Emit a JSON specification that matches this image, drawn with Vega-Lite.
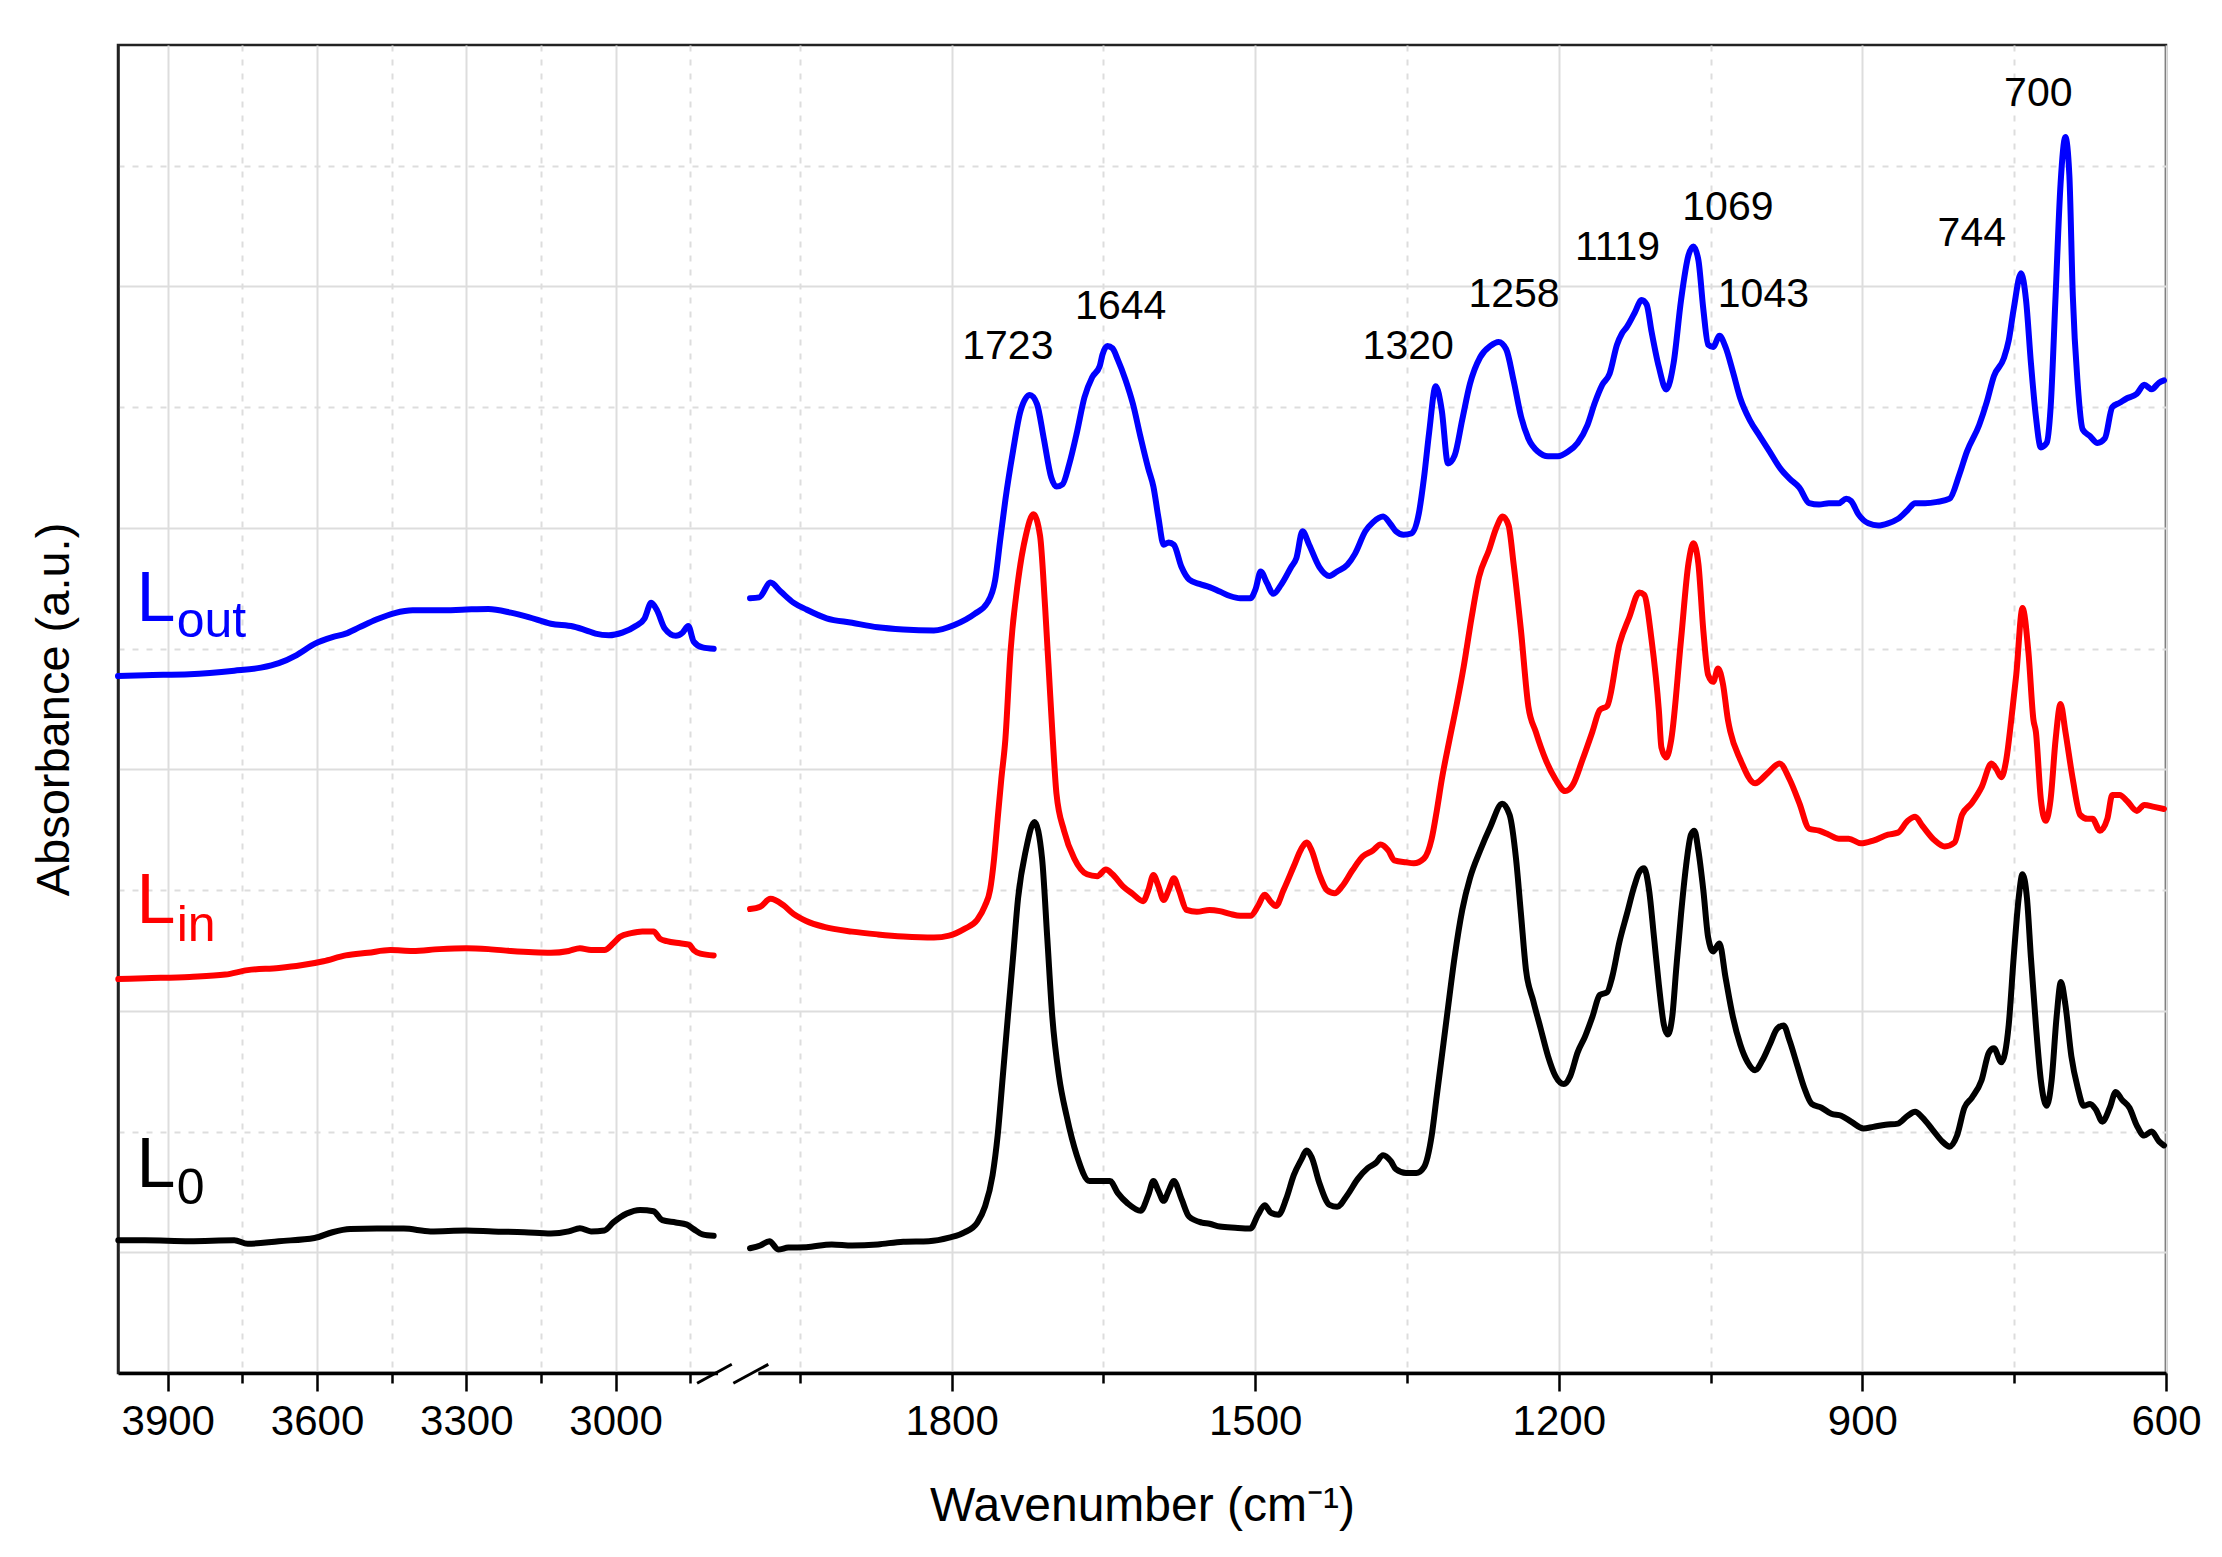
{
"$schema": "https://vega.github.io/schema/vega-lite/v6.json",
"width": 2048, "height": 1328,
"autosize": {"type": "none"},
"padding": {"left": 118, "top": 45, "right": 56, "bottom": 184},
"background": "white",
"config": {"font": "Liberation Sans", "view": {"stroke": "#222222", "strokeWidth": 2.5}},
"datasets": {
"spectra": [
{"s":"Lout","g":"a","w":4000,"v":5.773},{"s":"Lout","g":"a","w":3945.7,"v":5.780},{"s":"Lout","g":"a","w":3856,"v":5.788},{"s":"Lout","g":"a","w":3766.4,"v":5.817},{"s":"Lout","g":"a","w":3712.6,"v":5.843},{"s":"Lout","g":"a","w":3676.7,"v":5.880},{"s":"Lout","g":"a","w":3640.9,"v":5.947},{"s":"Lout","g":"a","w":3605,"v":6.039},{"s":"Lout","g":"a","w":3569,"v":6.095},{"s":"Lout","g":"a","w":3542.3,"v":6.124},{"s":"Lout","g":"a","w":3515.4,"v":6.176},{"s":"Lout","g":"a","w":3479.5,"v":6.243},{"s":"Lout","g":"a","w":3443.7,"v":6.294},{"s":"Lout","g":"a","w":3407.8,"v":6.317},{"s":"Lout","g":"a","w":3354,"v":6.317},{"s":"Lout","g":"a","w":3300.3,"v":6.324},{"s":"Lout","g":"a","w":3255.4,"v":6.328},{"s":"Lout","g":"a","w":3210.6,"v":6.298},{"s":"Lout","g":"a","w":3174.8,"v":6.261},{"s":"Lout","g":"a","w":3130,"v":6.206},{"s":"Lout","g":"a","w":3085.1,"v":6.183},{"s":"Lout","g":"a","w":3058.2,"v":6.150},{"s":"Lout","g":"a","w":3040.3,"v":6.124},{"s":"Lout","g":"a","w":3013.4,"v":6.110},{"s":"Lout","g":"a","w":2986.5,"v":6.132},{"s":"Lout","g":"a","w":2959.6,"v":6.187},{"s":"Lout","g":"a","w":2941.7,"v":6.250},{"s":"Lout","g":"a","w":2928.3,"v":6.380},{"s":"Lout","g":"a","w":2916.6,"v":6.317},{"s":"Lout","g":"a","w":2901.6,"v":6.169},{"s":"Lout","g":"a","w":2878.9,"v":6.106},{"s":"Lout","g":"a","w":2865.5,"v":6.132},{"s":"Lout","g":"a","w":2853.9,"v":6.187},{"s":"Lout","g":"a","w":2843,"v":6.058},{"s":"Lout","g":"a","w":2825.2,"v":6.010},{"s":"Lout","g":"a","w":2802.8,"v":5.999},
{"s":"Lout","g":"b","w":1999.2,"v":6.418},{"s":"Lout","g":"b","w":1990.1,"v":6.425},{"s":"Lout","g":"b","w":1979,"v":6.547},{"s":"Lout","g":"b","w":1968.9,"v":6.473},{"s":"Lout","g":"b","w":1956.3,"v":6.381},{"s":"Lout","g":"b","w":1943.7,"v":6.325},{"s":"Lout","g":"b","w":1923.5,"v":6.251},{"s":"Lout","g":"b","w":1898.3,"v":6.214},{"s":"Lout","g":"b","w":1873,"v":6.177},{"s":"Lout","g":"b","w":1847.8,"v":6.159},{"s":"Lout","g":"b","w":1817.5,"v":6.151},{"s":"Lout","g":"b","w":1797.4,"v":6.196},{"s":"Lout","g":"b","w":1777.2,"v":6.288},{"s":"Lout","g":"b","w":1764.6,"v":6.381},{"s":"Lout","g":"b","w":1757,"v":6.566},{"s":"Lout","g":"b","w":1752,"v":6.898},{"s":"Lout","g":"b","w":1746.9,"v":7.231},{"s":"Lout","g":"b","w":1739.3,"v":7.638},{"s":"Lout","g":"b","w":1731.8,"v":7.971},{"s":"Lout","g":"b","w":1722.7,"v":8.100},{"s":"Lout","g":"b","w":1715.6,"v":8.026},{"s":"Lout","g":"b","w":1709.1,"v":7.749},{"s":"Lout","g":"b","w":1701.5,"v":7.416},{"s":"Lout","g":"b","w":1696.4,"v":7.342},{"s":"Lout","g":"b","w":1690.4,"v":7.361},{"s":"Lout","g":"b","w":1683.8,"v":7.527},{"s":"Lout","g":"b","w":1676.3,"v":7.786},{"s":"Lout","g":"b","w":1668.7,"v":8.082},{"s":"Lout","g":"b","w":1661.1,"v":8.248},{"s":"Lout","g":"b","w":1653.6,"v":8.341},{"s":"Lout","g":"b","w":1651,"v":8.433},{"s":"Lout","g":"b","w":1646,"v":8.507},{"s":"Lout","g":"b","w":1641,"v":8.488},{"s":"Lout","g":"b","w":1635.9,"v":8.396},{"s":"Lout","g":"b","w":1628.3,"v":8.230},{"s":"Lout","g":"b","w":1620.8,"v":8.026},{"s":"Lout","g":"b","w":1613.2,"v":7.749},{"s":"Lout","g":"b","w":1605.6,"v":7.490},{"s":"Lout","g":"b","w":1600.6,"v":7.342},{"s":"Lout","g":"b","w":1595.6,"v":7.083},{"s":"Lout","g":"b","w":1590.5,"v":6.861},{"s":"Lout","g":"b","w":1585.5,"v":6.880},{"s":"Lout","g":"b","w":1580.4,"v":6.861},{"s":"Lout","g":"b","w":1572.8,"v":6.676},{"s":"Lout","g":"b","w":1565.3,"v":6.573},{"s":"Lout","g":"b","w":1555.2,"v":6.536},{"s":"Lout","g":"b","w":1545.1,"v":6.510},{"s":"Lout","g":"b","w":1535,"v":6.473},{"s":"Lout","g":"b","w":1524.9,"v":6.436},{"s":"Lout","g":"b","w":1514.8,"v":6.418},{"s":"Lout","g":"b","w":1504.7,"v":6.418},{"s":"Lout","g":"b","w":1499.7,"v":6.492},{"s":"Lout","g":"b","w":1494.6,"v":6.639},{"s":"Lout","g":"b","w":1488.6,"v":6.547},{"s":"Lout","g":"b","w":1482,"v":6.454},{"s":"Lout","g":"b","w":1474.5,"v":6.528},{"s":"Lout","g":"b","w":1464.4,"v":6.676},{"s":"Lout","g":"b","w":1459.3,"v":6.750},{"s":"Lout","g":"b","w":1453.3,"v":6.972},{"s":"Lout","g":"b","w":1446.7,"v":6.861},{"s":"Lout","g":"b","w":1436.6,"v":6.676},{"s":"Lout","g":"b","w":1426.6,"v":6.602},{"s":"Lout","g":"b","w":1419,"v":6.639},{"s":"Lout","g":"b","w":1408.9,"v":6.695},{"s":"Lout","g":"b","w":1401.3,"v":6.787},{"s":"Lout","g":"b","w":1391.2,"v":6.972},{"s":"Lout","g":"b","w":1383.7,"v":7.046},{"s":"Lout","g":"b","w":1373.6,"v":7.094},{"s":"Lout","g":"b","w":1366,"v":7.028},{"s":"Lout","g":"b","w":1361,"v":6.972},{"s":"Lout","g":"b","w":1353.4,"v":6.943},{"s":"Lout","g":"b","w":1345.8,"v":6.954},{"s":"Lout","g":"b","w":1338.3,"v":7.120},{"s":"Lout","g":"b","w":1333.2,"v":7.416},{"s":"Lout","g":"b","w":1328.2,"v":7.786},{"s":"Lout","g":"b","w":1321.6,"v":8.174},{"s":"Lout","g":"b","w":1315.6,"v":7.971},{"s":"Lout","g":"b","w":1309.5,"v":7.534},{"s":"Lout","g":"b","w":1302.9,"v":7.601},{"s":"Lout","g":"b","w":1295.4,"v":7.897},{"s":"Lout","g":"b","w":1287.8,"v":8.193},{"s":"Lout","g":"b","w":1277.7,"v":8.414},{"s":"Lout","g":"b","w":1267.6,"v":8.507},{"s":"Lout","g":"b","w":1259.5,"v":8.540},{"s":"Lout","g":"b","w":1252,"v":8.480},{"s":"Lout","g":"b","w":1244.7,"v":8.222},{"s":"Lout","g":"b","w":1237.4,"v":7.926},{"s":"Lout","g":"b","w":1230.1,"v":7.741},{"s":"Lout","g":"b","w":1220.4,"v":7.630},{"s":"Lout","g":"b","w":1210.6,"v":7.593},{"s":"Lout","g":"b","w":1200.9,"v":7.593},{"s":"Lout","g":"b","w":1191.1,"v":7.630},{"s":"Lout","g":"b","w":1181.4,"v":7.704},{"s":"Lout","g":"b","w":1171.7,"v":7.852},{"s":"Lout","g":"b","w":1164.4,"v":8.037},{"s":"Lout","g":"b","w":1157.1,"v":8.185},{"s":"Lout","g":"b","w":1149.8,"v":8.277},{"s":"Lout","g":"b","w":1142.5,"v":8.517},{"s":"Lout","g":"b","w":1137.6,"v":8.610},{"s":"Lout","g":"b","w":1132.7,"v":8.665},{"s":"Lout","g":"b","w":1125.4,"v":8.776},{"s":"Lout","g":"b","w":1118.1,"v":8.887},{"s":"Lout","g":"b","w":1113.2,"v":8.850},{"s":"Lout","g":"b","w":1108.4,"v":8.628},{"s":"Lout","g":"b","w":1101.1,"v":8.332},{"s":"Lout","g":"b","w":1093.8,"v":8.147},{"s":"Lout","g":"b","w":1086.5,"v":8.369},{"s":"Lout","g":"b","w":1079.2,"v":8.887},{"s":"Lout","g":"b","w":1071.9,"v":9.257},{"s":"Lout","g":"b","w":1067,"v":9.331},{"s":"Lout","g":"b","w":1062.1,"v":9.220},{"s":"Lout","g":"b","w":1057.2,"v":8.813},{"s":"Lout","g":"b","w":1052.4,"v":8.517},{"s":"Lout","g":"b","w":1047.5,"v":8.499},{"s":"Lout","g":"b","w":1041.2,"v":8.591},{"s":"Lout","g":"b","w":1035.3,"v":8.499},{"s":"Lout","g":"b","w":1028,"v":8.295},{"s":"Lout","g":"b","w":1020.7,"v":8.074},{"s":"Lout","g":"b","w":1011,"v":7.889},{"s":"Lout","g":"b","w":1001.3,"v":7.759},{"s":"Lout","g":"b","w":991.5,"v":7.630},{"s":"Lout","g":"b","w":981.8,"v":7.500},{"s":"Lout","g":"b","w":972,"v":7.408},{"s":"Lout","g":"b","w":962.3,"v":7.334},{"s":"Lout","g":"b","w":952.6,"v":7.205},{"s":"Lout","g":"b","w":942.8,"v":7.193},{"s":"Lout","g":"b","w":933.1,"v":7.205},{"s":"Lout","g":"b","w":923.3,"v":7.205},{"s":"Lout","g":"b","w":916,"v":7.242},{"s":"Lout","g":"b","w":911.2,"v":7.223},{"s":"Lout","g":"b","w":903.9,"v":7.112},{"s":"Lout","g":"b","w":894.1,"v":7.038},{"s":"Lout","g":"b","w":884.4,"v":7.020},{"s":"Lout","g":"b","w":874.7,"v":7.038},{"s":"Lout","g":"b","w":864.9,"v":7.075},{"s":"Lout","g":"b","w":855.2,"v":7.149},{"s":"Lout","g":"b","w":847.9,"v":7.205},{"s":"Lout","g":"b","w":838.1,"v":7.205},{"s":"Lout","g":"b","w":826,"v":7.216},{"s":"Lout","g":"b","w":813.8,"v":7.242},{"s":"Lout","g":"b","w":804.1,"v":7.445},{"s":"Lout","g":"b","w":796.8,"v":7.630},{"s":"Lout","g":"b","w":784.6,"v":7.852},{"s":"Lout","g":"b","w":777.3,"v":8.037},{"s":"Lout","g":"b","w":770,"v":8.259},{"s":"Lout","g":"b","w":760.2,"v":8.406},{"s":"Lout","g":"b","w":755.4,"v":8.554},{"s":"Lout","g":"b","w":750.5,"v":8.813},{"s":"Lout","g":"b","w":743.2,"v":9.109},{"s":"Lout","g":"b","w":738.3,"v":8.887},{"s":"Lout","g":"b","w":733.5,"v":8.369},{"s":"Lout","g":"b","w":728.6,"v":7.926},{"s":"Lout","g":"b","w":723.7,"v":7.667},{"s":"Lout","g":"b","w":717.9,"v":7.704},{"s":"Lout","g":"b","w":714,"v":8.000},{"s":"Lout","g":"b","w":709.1,"v":8.924},{"s":"Lout","g":"b","w":704.2,"v":9.849},{"s":"Lout","g":"b","w":699.4,"v":10.237},{"s":"Lout","g":"b","w":695.5,"v":9.922},{"s":"Lout","g":"b","w":692.1,"v":8.924},{"s":"Lout","g":"b","w":687.2,"v":8.185},{"s":"Lout","g":"b","w":682.3,"v":7.815},{"s":"Lout","g":"b","w":675,"v":7.759},{"s":"Lout","g":"b","w":667.7,"v":7.704},{"s":"Lout","g":"b","w":660.4,"v":7.741},{"s":"Lout","g":"b","w":653.1,"v":8.000},{"s":"Lout","g":"b","w":645.8,"v":8.037},{"s":"Lout","g":"b","w":638.5,"v":8.074},{"s":"Lout","g":"b","w":628.8,"v":8.111},{"s":"Lout","g":"b","w":621.5,"v":8.185},{"s":"Lout","g":"b","w":614.2,"v":8.148},{"s":"Lout","g":"b","w":606.9,"v":8.203},{"s":"Lout","g":"b","w":602,"v":8.222},
{"s":"Lin","g":"a","w":3999.4,"v":3.263},{"s":"Lin","g":"a","w":3945.7,"v":3.270},{"s":"Lin","g":"a","w":3856,"v":3.281},{"s":"Lin","g":"a","w":3784.3,"v":3.300},{"s":"Lin","g":"a","w":3739.5,"v":3.337},{"s":"Lin","g":"a","w":3676.7,"v":3.355},{"s":"Lin","g":"a","w":3632,"v":3.377},{"s":"Lin","g":"a","w":3587.1,"v":3.411},{"s":"Lin","g":"a","w":3542.3,"v":3.459},{"s":"Lin","g":"a","w":3497.5,"v":3.481},{"s":"Lin","g":"a","w":3452.6,"v":3.503},{"s":"Lin","g":"a","w":3407.8,"v":3.496},{"s":"Lin","g":"a","w":3354,"v":3.511},{"s":"Lin","g":"a","w":3300.3,"v":3.518},{"s":"Lin","g":"a","w":3255.4,"v":3.511},{"s":"Lin","g":"a","w":3210.6,"v":3.496},{"s":"Lin","g":"a","w":3165.8,"v":3.485},{"s":"Lin","g":"a","w":3130,"v":3.481},{"s":"Lin","g":"a","w":3094.1,"v":3.496},{"s":"Lin","g":"a","w":3071.7,"v":3.518},{"s":"Lin","g":"a","w":3049.3,"v":3.503},{"s":"Lin","g":"a","w":3022.4,"v":3.503},{"s":"Lin","g":"a","w":3004.5,"v":3.559},{"s":"Lin","g":"a","w":2991,"v":3.614},{"s":"Lin","g":"a","w":2968.6,"v":3.644},{"s":"Lin","g":"a","w":2946.2,"v":3.658},{"s":"Lin","g":"a","w":2923.8,"v":3.658},{"s":"Lin","g":"a","w":2910.3,"v":3.596},{"s":"Lin","g":"a","w":2896.9,"v":3.577},{"s":"Lin","g":"a","w":2870,"v":3.559},{"s":"Lin","g":"a","w":2852.1,"v":3.548},{"s":"Lin","g":"a","w":2843.1,"v":3.503},{"s":"Lin","g":"a","w":2829.6,"v":3.474},{"s":"Lin","g":"a","w":2802.8,"v":3.459},
{"s":"Lin","g":"b","w":1999.2,"v":3.843},{"s":"Lin","g":"b","w":1989.1,"v":3.862},{"s":"Lin","g":"b","w":1979,"v":3.928},{"s":"Lin","g":"b","w":1966.4,"v":3.876},{"s":"Lin","g":"b","w":1956.3,"v":3.803},{"s":"Lin","g":"b","w":1943.7,"v":3.744},{"s":"Lin","g":"b","w":1926,"v":3.695},{"s":"Lin","g":"b","w":1898.3,"v":3.656},{"s":"Lin","g":"b","w":1873,"v":3.633},{"s":"Lin","g":"b","w":1847.8,"v":3.616},{"s":"Lin","g":"b","w":1817.5,"v":3.607},{"s":"Lin","g":"b","w":1802.4,"v":3.623},{"s":"Lin","g":"b","w":1787.3,"v":3.679},{"s":"Lin","g":"b","w":1774.6,"v":3.754},{"s":"Lin","g":"b","w":1767.1,"v":3.869},{"s":"Lin","g":"b","w":1762,"v":4.000},{"s":"Lin","g":"b","w":1758,"v":4.262},{"s":"Lin","g":"b","w":1754.5,"v":4.590},{"s":"Lin","g":"b","w":1750.9,"v":4.918},{"s":"Lin","g":"b","w":1746.9,"v":5.246},{"s":"Lin","g":"b","w":1741.8,"v":5.974},{"s":"Lin","g":"b","w":1734.3,"v":6.565},{"s":"Lin","g":"b","w":1726.7,"v":6.935},{"s":"Lin","g":"b","w":1719.2,"v":7.113},{"s":"Lin","g":"b","w":1712.6,"v":6.935},{"s":"Lin","g":"b","w":1707.6,"v":6.344},{"s":"Lin","g":"b","w":1702.5,"v":5.604},{"s":"Lin","g":"b","w":1700,"v":5.246},{"s":"Lin","g":"b","w":1696.4,"v":4.800},{"s":"Lin","g":"b","w":1688.9,"v":4.492},{"s":"Lin","g":"b","w":1678.8,"v":4.262},{"s":"Lin","g":"b","w":1666.2,"v":4.131},{"s":"Lin","g":"b","w":1656.1,"v":4.115},{"s":"Lin","g":"b","w":1647.5,"v":4.171},{"s":"Lin","g":"b","w":1641,"v":4.131},{"s":"Lin","g":"b","w":1630.9,"v":4.033},{"s":"Lin","g":"b","w":1620.8,"v":3.967},{"s":"Lin","g":"b","w":1610.7,"v":3.908},{"s":"Lin","g":"b","w":1605.6,"v":4.000},{"s":"Lin","g":"b","w":1600.6,"v":4.125},{"s":"Lin","g":"b","w":1595.6,"v":4.033},{"s":"Lin","g":"b","w":1590.5,"v":3.918},{"s":"Lin","g":"b","w":1585.5,"v":4.000},{"s":"Lin","g":"b","w":1580.4,"v":4.098},{"s":"Lin","g":"b","w":1575.4,"v":4.000},{"s":"Lin","g":"b","w":1567.8,"v":3.836},{"s":"Lin","g":"b","w":1557.7,"v":3.820},{"s":"Lin","g":"b","w":1545.1,"v":3.836},{"s":"Lin","g":"b","w":1535,"v":3.826},{"s":"Lin","g":"b","w":1524.9,"v":3.803},{"s":"Lin","g":"b","w":1514.8,"v":3.787},{"s":"Lin","g":"b","w":1504.7,"v":3.787},{"s":"Lin","g":"b","w":1497.2,"v":3.869},{"s":"Lin","g":"b","w":1490.6,"v":3.961},{"s":"Lin","g":"b","w":1484.6,"v":3.902},{"s":"Lin","g":"b","w":1479.5,"v":3.869},{"s":"Lin","g":"b","w":1472,"v":4.000},{"s":"Lin","g":"b","w":1461.9,"v":4.197},{"s":"Lin","g":"b","w":1454.3,"v":4.344},{"s":"Lin","g":"b","w":1449.2,"v":4.394},{"s":"Lin","g":"b","w":1444.2,"v":4.328},{"s":"Lin","g":"b","w":1436.6,"v":4.131},{"s":"Lin","g":"b","w":1429.1,"v":4.000},{"s":"Lin","g":"b","w":1421.5,"v":3.974},{"s":"Lin","g":"b","w":1414,"v":4.033},{"s":"Lin","g":"b","w":1403.9,"v":4.164},{"s":"Lin","g":"b","w":1393.7,"v":4.279},{"s":"Lin","g":"b","w":1383.7,"v":4.328},{"s":"Lin","g":"b","w":1376.1,"v":4.377},{"s":"Lin","g":"b","w":1368.5,"v":4.328},{"s":"Lin","g":"b","w":1362.5,"v":4.246},{"s":"Lin","g":"b","w":1350.9,"v":4.230},{"s":"Lin","g":"b","w":1343.3,"v":4.223},{"s":"Lin","g":"b","w":1333.2,"v":4.262},{"s":"Lin","g":"b","w":1325.6,"v":4.426},{"s":"Lin","g":"b","w":1320.6,"v":4.656},{"s":"Lin","g":"b","w":1315.6,"v":4.918},{"s":"Lin","g":"b","w":1308,"v":5.246},{"s":"Lin","g":"b","w":1300.4,"v":5.560},{"s":"Lin","g":"b","w":1294,"v":5.850},{"s":"Lin","g":"b","w":1286.1,"v":6.262},{"s":"Lin","g":"b","w":1278.8,"v":6.594},{"s":"Lin","g":"b","w":1269,"v":6.816},{"s":"Lin","g":"b","w":1261.7,"v":7.001},{"s":"Lin","g":"b","w":1255.4,"v":7.094},{"s":"Lin","g":"b","w":1249.6,"v":7.020},{"s":"Lin","g":"b","w":1244.7,"v":6.705},{"s":"Lin","g":"b","w":1237.4,"v":6.151},{"s":"Lin","g":"b","w":1230.1,"v":5.522},{"s":"Lin","g":"b","w":1222.8,"v":5.312},{"s":"Lin","g":"b","w":1213.1,"v":5.082},{"s":"Lin","g":"b","w":1203.3,"v":4.918},{"s":"Lin","g":"b","w":1193.6,"v":4.820},{"s":"Lin","g":"b","w":1186.3,"v":4.869},{"s":"Lin","g":"b","w":1176.5,"v":5.082},{"s":"Lin","g":"b","w":1166.8,"v":5.312},{"s":"Lin","g":"b","w":1159.5,"v":5.492},{"s":"Lin","g":"b","w":1152.2,"v":5.525},{"s":"Lin","g":"b","w":1140,"v":6.040},{"s":"Lin","g":"b","w":1130.3,"v":6.262},{"s":"Lin","g":"b","w":1120.5,"v":6.465},{"s":"Lin","g":"b","w":1115.7,"v":6.447},{"s":"Lin","g":"b","w":1108.4,"v":6.077},{"s":"Lin","g":"b","w":1101.1,"v":5.485},{"s":"Lin","g":"b","w":1098.6,"v":5.181},{"s":"Lin","g":"b","w":1093.8,"v":5.099},{"s":"Lin","g":"b","w":1088.9,"v":5.246},{"s":"Lin","g":"b","w":1079.2,"v":6.077},{"s":"Lin","g":"b","w":1071.9,"v":6.705},{"s":"Lin","g":"b","w":1067,"v":6.872},{"s":"Lin","g":"b","w":1062.1,"v":6.705},{"s":"Lin","g":"b","w":1057.2,"v":6.151},{"s":"Lin","g":"b","w":1052.4,"v":5.781},{"s":"Lin","g":"b","w":1047.5,"v":5.725},{"s":"Lin","g":"b","w":1042.6,"v":5.836},{"s":"Lin","g":"b","w":1037.8,"v":5.707},{"s":"Lin","g":"b","w":1032.9,"v":5.411},{"s":"Lin","g":"b","w":1030.5,"v":5.312},{"s":"Lin","g":"b","w":1020.7,"v":5.082},{"s":"Lin","g":"b","w":1006.1,"v":4.885},{"s":"Lin","g":"b","w":993.9,"v":4.967},{"s":"Lin","g":"b","w":981.8,"v":5.049},{"s":"Lin","g":"b","w":972,"v":4.918},{"s":"Lin","g":"b","w":962.3,"v":4.721},{"s":"Lin","g":"b","w":952.6,"v":4.508},{"s":"Lin","g":"b","w":942.8,"v":4.492},{"s":"Lin","g":"b","w":933.1,"v":4.459},{"s":"Lin","g":"b","w":923.3,"v":4.426},{"s":"Lin","g":"b","w":913.6,"v":4.426},{"s":"Lin","g":"b","w":901.4,"v":4.387},{"s":"Lin","g":"b","w":889.3,"v":4.410},{"s":"Lin","g":"b","w":874.7,"v":4.459},{"s":"Lin","g":"b","w":864.9,"v":4.476},{"s":"Lin","g":"b","w":855.2,"v":4.574},{"s":"Lin","g":"b","w":847.9,"v":4.607},{"s":"Lin","g":"b","w":840.6,"v":4.531},{"s":"Lin","g":"b","w":828.4,"v":4.410},{"s":"Lin","g":"b","w":818.7,"v":4.361},{"s":"Lin","g":"b","w":808.9,"v":4.394},{"s":"Lin","g":"b","w":801.6,"v":4.623},{"s":"Lin","g":"b","w":791.9,"v":4.721},{"s":"Lin","g":"b","w":782.2,"v":4.853},{"s":"Lin","g":"b","w":772.4,"v":5.049},{"s":"Lin","g":"b","w":767.5,"v":5.000},{"s":"Lin","g":"b","w":762.7,"v":4.935},{"s":"Lin","g":"b","w":757.8,"v":5.082},{"s":"Lin","g":"b","w":752.9,"v":5.410},{"s":"Lin","g":"b","w":748,"v":5.781},{"s":"Lin","g":"b","w":741.8,"v":6.336},{"s":"Lin","g":"b","w":735.9,"v":5.966},{"s":"Lin","g":"b","w":731,"v":5.411},{"s":"Lin","g":"b","w":728.6,"v":5.312},{"s":"Lin","g":"b","w":723.7,"v":4.754},{"s":"Lin","g":"b","w":718.9,"v":4.574},{"s":"Lin","g":"b","w":714,"v":4.754},{"s":"Lin","g":"b","w":709.1,"v":5.246},{"s":"Lin","g":"b","w":704.2,"v":5.541},{"s":"Lin","g":"b","w":699.4,"v":5.312},{"s":"Lin","g":"b","w":692.1,"v":4.918},{"s":"Lin","g":"b","w":684.8,"v":4.623},{"s":"Lin","g":"b","w":677.5,"v":4.590},{"s":"Lin","g":"b","w":672.6,"v":4.590},{"s":"Lin","g":"b","w":665.3,"v":4.492},{"s":"Lin","g":"b","w":658,"v":4.590},{"s":"Lin","g":"b","w":653.1,"v":4.787},{"s":"Lin","g":"b","w":645.8,"v":4.787},{"s":"Lin","g":"b","w":638.5,"v":4.738},{"s":"Lin","g":"b","w":628.8,"v":4.656},{"s":"Lin","g":"b","w":621.5,"v":4.705},{"s":"Lin","g":"b","w":611.7,"v":4.689},{"s":"Lin","g":"b","w":602,"v":4.672},
{"s":"L0","g":"a","w":3999.4,"v":1.099},{"s":"L0","g":"a","w":3945.7,"v":1.099},{"s":"L0","g":"a","w":3856,"v":1.092},{"s":"L0","g":"a","w":3766.4,"v":1.099},{"s":"L0","g":"a","w":3739.5,"v":1.070},{"s":"L0","g":"a","w":3676.7,"v":1.092},{"s":"L0","g":"a","w":3605,"v":1.118},{"s":"L0","g":"a","w":3569,"v":1.166},{"s":"L0","g":"a","w":3533.3,"v":1.192},{"s":"L0","g":"a","w":3479.5,"v":1.196},{"s":"L0","g":"a","w":3425.7,"v":1.196},{"s":"L0","g":"a","w":3372,"v":1.173},{"s":"L0","g":"a","w":3300.3,"v":1.181},{"s":"L0","g":"a","w":3246.5,"v":1.173},{"s":"L0","g":"a","w":3183.7,"v":1.166},{"s":"L0","g":"a","w":3130,"v":1.155},{"s":"L0","g":"a","w":3094.1,"v":1.173},{"s":"L0","g":"a","w":3071.7,"v":1.199},{"s":"L0","g":"a","w":3049.3,"v":1.173},{"s":"L0","g":"a","w":3022.4,"v":1.181},{"s":"L0","g":"a","w":3004.5,"v":1.247},{"s":"L0","g":"a","w":2977.5,"v":1.321},{"s":"L0","g":"a","w":2950.6,"v":1.351},{"s":"L0","g":"a","w":2923.8,"v":1.340},{"s":"L0","g":"a","w":2905.9,"v":1.266},{"s":"L0","g":"a","w":2879,"v":1.247},{"s":"L0","g":"a","w":2856.6,"v":1.229},{"s":"L0","g":"a","w":2843.1,"v":1.192},{"s":"L0","g":"a","w":2825.2,"v":1.148},{"s":"L0","g":"a","w":2802.8,"v":1.136},
{"s":"L0","g":"b","w":1999.2,"v":1.033},{"s":"L0","g":"b","w":1989.1,"v":1.056},{"s":"L0","g":"b","w":1980,"v":1.092},{"s":"L0","g":"b","w":1971.4,"v":1.023},{"s":"L0","g":"b","w":1961.3,"v":1.039},{"s":"L0","g":"b","w":1943.7,"v":1.042},{"s":"L0","g":"b","w":1918.4,"v":1.065},{"s":"L0","g":"b","w":1898.3,"v":1.056},{"s":"L0","g":"b","w":1873,"v":1.065},{"s":"L0","g":"b","w":1847.8,"v":1.088},{"s":"L0","g":"b","w":1822.6,"v":1.092},{"s":"L0","g":"b","w":1802.4,"v":1.121},{"s":"L0","g":"b","w":1787.3,"v":1.164},{"s":"L0","g":"b","w":1774.6,"v":1.246},{"s":"L0","g":"b","w":1767.1,"v":1.377},{"s":"L0","g":"b","w":1759.5,"v":1.639},{"s":"L0","g":"b","w":1754.5,"v":1.967},{"s":"L0","g":"b","w":1749.4,"v":2.459},{"s":"L0","g":"b","w":1744.4,"v":2.951},{"s":"L0","g":"b","w":1739.3,"v":3.443},{"s":"L0","g":"b","w":1734.3,"v":3.934},{"s":"L0","g":"b","w":1726.7,"v":4.328},{"s":"L0","g":"b","w":1718.1,"v":4.564},{"s":"L0","g":"b","w":1710.6,"v":4.262},{"s":"L0","g":"b","w":1705.5,"v":3.607},{"s":"L0","g":"b","w":1700.5,"v":2.951},{"s":"L0","g":"b","w":1693.9,"v":2.459},{"s":"L0","g":"b","w":1686.4,"v":2.131},{"s":"L0","g":"b","w":1676.3,"v":1.803},{"s":"L0","g":"b","w":1663.7,"v":1.590},{"s":"L0","g":"b","w":1653.6,"v":1.590},{"s":"L0","g":"b","w":1643.5,"v":1.590},{"s":"L0","g":"b","w":1635.9,"v":1.492},{"s":"L0","g":"b","w":1625.8,"v":1.403},{"s":"L0","g":"b","w":1613.2,"v":1.344},{"s":"L0","g":"b","w":1605.6,"v":1.475},{"s":"L0","g":"b","w":1600.6,"v":1.590},{"s":"L0","g":"b","w":1595.6,"v":1.508},{"s":"L0","g":"b","w":1590.5,"v":1.426},{"s":"L0","g":"b","w":1585.5,"v":1.508},{"s":"L0","g":"b","w":1580.4,"v":1.590},{"s":"L0","g":"b","w":1572.8,"v":1.442},{"s":"L0","g":"b","w":1565.3,"v":1.295},{"s":"L0","g":"b","w":1552.7,"v":1.246},{"s":"L0","g":"b","w":1545.1,"v":1.236},{"s":"L0","g":"b","w":1535,"v":1.213},{"s":"L0","g":"b","w":1519.8,"v":1.203},{"s":"L0","g":"b","w":1504.7,"v":1.197},{"s":"L0","g":"b","w":1497.2,"v":1.311},{"s":"L0","g":"b","w":1490.6,"v":1.390},{"s":"L0","g":"b","w":1484.6,"v":1.328},{"s":"L0","g":"b","w":1477,"v":1.311},{"s":"L0","g":"b","w":1469.4,"v":1.442},{"s":"L0","g":"b","w":1461.9,"v":1.639},{"s":"L0","g":"b","w":1454.3,"v":1.770},{"s":"L0","g":"b","w":1449.2,"v":1.843},{"s":"L0","g":"b","w":1444.2,"v":1.787},{"s":"L0","g":"b","w":1436.6,"v":1.574},{"s":"L0","g":"b","w":1426.6,"v":1.393},{"s":"L0","g":"b","w":1419,"v":1.377},{"s":"L0","g":"b","w":1408.9,"v":1.475},{"s":"L0","g":"b","w":1398.8,"v":1.606},{"s":"L0","g":"b","w":1388.7,"v":1.698},{"s":"L0","g":"b","w":1381.1,"v":1.738},{"s":"L0","g":"b","w":1373.6,"v":1.803},{"s":"L0","g":"b","w":1366,"v":1.754},{"s":"L0","g":"b","w":1361,"v":1.688},{"s":"L0","g":"b","w":1350.9,"v":1.656},{"s":"L0","g":"b","w":1340.8,"v":1.656},{"s":"L0","g":"b","w":1333.2,"v":1.705},{"s":"L0","g":"b","w":1325.6,"v":1.967},{"s":"L0","g":"b","w":1320.6,"v":2.295},{"s":"L0","g":"b","w":1315.6,"v":2.623},{"s":"L0","g":"b","w":1310.6,"v":2.951},{"s":"L0","g":"b","w":1303,"v":3.443},{"s":"L0","g":"b","w":1295.4,"v":3.836},{"s":"L0","g":"b","w":1287.8,"v":4.098},{"s":"L0","g":"b","w":1277.7,"v":4.328},{"s":"L0","g":"b","w":1267.6,"v":4.525},{"s":"L0","g":"b","w":1256,"v":4.715},{"s":"L0","g":"b","w":1248.6,"v":4.623},{"s":"L0","g":"b","w":1242.3,"v":4.262},{"s":"L0","g":"b","w":1237.4,"v":3.803},{"s":"L0","g":"b","w":1232.5,"v":3.344},{"s":"L0","g":"b","w":1225.2,"v":3.082},{"s":"L0","g":"b","w":1217.9,"v":2.852},{"s":"L0","g":"b","w":1210.6,"v":2.623},{"s":"L0","g":"b","w":1203.3,"v":2.459},{"s":"L0","g":"b","w":1195,"v":2.393},{"s":"L0","g":"b","w":1188.7,"v":2.459},{"s":"L0","g":"b","w":1181.4,"v":2.656},{"s":"L0","g":"b","w":1174.1,"v":2.787},{"s":"L0","g":"b","w":1166.8,"v":2.951},{"s":"L0","g":"b","w":1159.5,"v":3.131},{"s":"L0","g":"b","w":1152.2,"v":3.154},{"s":"L0","g":"b","w":1147.3,"v":3.279},{"s":"L0","g":"b","w":1140,"v":3.574},{"s":"L0","g":"b","w":1132.7,"v":3.803},{"s":"L0","g":"b","w":1125.4,"v":4.033},{"s":"L0","g":"b","w":1120.5,"v":4.148},{"s":"L0","g":"b","w":1115.7,"v":4.180},{"s":"L0","g":"b","w":1110.8,"v":4.000},{"s":"L0","g":"b","w":1105.9,"v":3.607},{"s":"L0","g":"b","w":1101.1,"v":3.213},{"s":"L0","g":"b","w":1096.2,"v":2.885},{"s":"L0","g":"b","w":1092.3,"v":2.803},{"s":"L0","g":"b","w":1087.9,"v":2.951},{"s":"L0","g":"b","w":1084,"v":3.344},{"s":"L0","g":"b","w":1079.2,"v":3.803},{"s":"L0","g":"b","w":1074.3,"v":4.197},{"s":"L0","g":"b","w":1069.4,"v":4.459},{"s":"L0","g":"b","w":1066,"v":4.492},{"s":"L0","g":"b","w":1062.1,"v":4.328},{"s":"L0","g":"b","w":1057.2,"v":4.000},{"s":"L0","g":"b","w":1052.4,"v":3.607},{"s":"L0","g":"b","w":1047.5,"v":3.492},{"s":"L0","g":"b","w":1041.2,"v":3.557},{"s":"L0","g":"b","w":1035.3,"v":3.279},{"s":"L0","g":"b","w":1028,"v":2.951},{"s":"L0","g":"b","w":1020.7,"v":2.721},{"s":"L0","g":"b","w":1013.4,"v":2.574},{"s":"L0","g":"b","w":1006.1,"v":2.508},{"s":"L0","g":"b","w":998.8,"v":2.590},{"s":"L0","g":"b","w":991.5,"v":2.721},{"s":"L0","g":"b","w":984.2,"v":2.852},{"s":"L0","g":"b","w":977.9,"v":2.879},{"s":"L0","g":"b","w":972,"v":2.754},{"s":"L0","g":"b","w":964.7,"v":2.557},{"s":"L0","g":"b","w":957.4,"v":2.361},{"s":"L0","g":"b","w":950.1,"v":2.229},{"s":"L0","g":"b","w":940.4,"v":2.197},{"s":"L0","g":"b","w":930.7,"v":2.147},{"s":"L0","g":"b","w":920.9,"v":2.131},{"s":"L0","g":"b","w":911.2,"v":2.082},{"s":"L0","g":"b","w":899,"v":2.026},{"s":"L0","g":"b","w":889.3,"v":2.039},{"s":"L0","g":"b","w":877.1,"v":2.056},{"s":"L0","g":"b","w":864.9,"v":2.066},{"s":"L0","g":"b","w":855.2,"v":2.131},{"s":"L0","g":"b","w":847.9,"v":2.164},{"s":"L0","g":"b","w":840.6,"v":2.115},{"s":"L0","g":"b","w":830.8,"v":2.016},{"s":"L0","g":"b","w":821.1,"v":1.918},{"s":"L0","g":"b","w":813.8,"v":1.875},{"s":"L0","g":"b","w":806.5,"v":1.967},{"s":"L0","g":"b","w":799.2,"v":2.197},{"s":"L0","g":"b","w":791.9,"v":2.279},{"s":"L0","g":"b","w":782.2,"v":2.426},{"s":"L0","g":"b","w":774.9,"v":2.656},{"s":"L0","g":"b","w":770,"v":2.689},{"s":"L0","g":"b","w":762.7,"v":2.574},{"s":"L0","g":"b","w":755.4,"v":2.885},{"s":"L0","g":"b","w":750.5,"v":3.443},{"s":"L0","g":"b","w":745.6,"v":3.934},{"s":"L0","g":"b","w":741.8,"v":4.131},{"s":"L0","g":"b","w":737.4,"v":3.934},{"s":"L0","g":"b","w":733.5,"v":3.443},{"s":"L0","g":"b","w":728.6,"v":2.885},{"s":"L0","g":"b","w":723.7,"v":2.426},{"s":"L0","g":"b","w":717.9,"v":2.213},{"s":"L0","g":"b","w":713,"v":2.426},{"s":"L0","g":"b","w":708.1,"v":2.951},{"s":"L0","g":"b","w":703.8,"v":3.239},{"s":"L0","g":"b","w":699.4,"v":3.049},{"s":"L0","g":"b","w":693.5,"v":2.623},{"s":"L0","g":"b","w":687.2,"v":2.361},{"s":"L0","g":"b","w":681.3,"v":2.213},{"s":"L0","g":"b","w":675,"v":2.229},{"s":"L0","g":"b","w":669.2,"v":2.180},{"s":"L0","g":"b","w":662.9,"v":2.082},{"s":"L0","g":"b","w":655.6,"v":2.197},{"s":"L0","g":"b","w":649.7,"v":2.328},{"s":"L0","g":"b","w":643.4,"v":2.262},{"s":"L0","g":"b","w":636.1,"v":2.197},{"s":"L0","g":"b","w":628.8,"v":2.049},{"s":"L0","g":"b","w":621.5,"v":1.967},{"s":"L0","g":"b","w":614.2,"v":2.000},{"s":"L0","g":"b","w":606.9,"v":1.918},{"s":"L0","g":"b","w":602,"v":1.885}
],
"peaks": [
{"t":"1723","w":1744.4,"v":8.396},{"t":"1644","w":1632.9,"v":8.729},{"t":"1320","w":1348.8,"v":8.396},{"t":"1258","w":1244.2,"v":8.832},{"t":"1119","w":1142,"v":9.220},{"t":"1069","w":1032.9,"v":9.553},{"t":"1043","w":997.8,"v":8.832},{"t":"744","w":791.9,"v":9.331},{"t":"700","w":726.2,"v":10.496}
],
"names": [
{"s":"Lout","part":"L","t":"L","w":3963,"v":6.225},{"s":"Lout","part":"sub","t":"out","w":3882,"v":6.096},
{"s":"Lin","part":"L","t":"L","w":3963,"v":3.727},{"s":"Lin","part":"sub","t":"in","w":3882,"v":3.578},
{"s":"L0","part":"L","t":"L","w":3963,"v":1.541},{"s":"L0","part":"sub","t":"0","w":3882,"v":1.400}
],
"gap": [{"w":2794,"v":0,"w2":1991,"v2":0}],
"slashes": [{"w":2836.2,"v":-0.085,"w2":2766.5,"v2":0.072},{"w":2015.7,"v":-0.085,"w2":1981.1,"v2":0.072}]
},
"encoding": {
"x": {"field": "w", "type": "quantitative",
 "scale": {"domain": [4000, 2766, 2017, 600], "range": [0, 614, 614, 2048], "nice": false, "zero": false},
 "axis": {"values": [3900,3750,3600,3450,3300,3150,3000,2850,1950,1800,1650,1500,1350,1200,1050,900,750,600],
  "labelExpr": "datum.value % 300 === 0 ? datum.label : ''", "format": "d",
  "title": "Wavenumber (cm⁻¹)", "titleFontSize": 48, "titleFontWeight": "normal", "titleColor": "#000000", "titlePadding": 40,
  "labelFontSize": 42, "labelColor": "#000000", "labelPadding": 10, "labelFlush": false, "labelOverlap": false,
  "tickSize": {"condition": {"test": "datum.value % 300 === 0", "value": 18}, "value": 10},
  "tickColor": "#000000", "tickWidth": 2.5, "domainColor": "#000000", "domainWidth": 3.5,
  "grid": true, "gridColor": "#dddddd", "gridWidth": 2,
  "gridDash": {"condition": {"test": "datum.value % 300 === 0", "value": []}, "value": [6, 8]}}},
"y": {"field": "v", "type": "quantitative",
 "scale": {"domain": [0, 11], "nice": false, "zero": false},
 "axis": {"values": [1,2,3,4,5,6,7,8,9,10], "labels": false, "ticks": false, "domain": true, "domainColor": "#222222", "domainWidth": 2.5,
  "grid": true, "gridColor": "#dddddd", "gridWidth": 2,
  "gridDash": {"condition": {"test": "datum.value % 2 === 0", "value": [6, 8]}, "value": []},
  "title": "Absorbance (a.u.)", "titleFontSize": 47, "titleFontWeight": "normal", "titleColor": "#000000", "titlePadding": 40}}
},
"layer": [
{"data": {"name": "spectra"}, "mark": {"type": "line", "strokeWidth": 6, "interpolate": "monotone", "strokeJoin": "round", "strokeCap": "round"},
 "encoding": {"color": {"field": "s", "type": "nominal", "scale": {"domain": ["Lout","Lin","L0"], "range": ["#0000ff","#ff0000","#000000"]}, "legend": null},
  "detail": {"field": "g", "type": "nominal"}}},
{"data": {"name": "peaks"}, "mark": {"type": "text", "fontSize": 41, "align": "center", "baseline": "alphabetic", "color": "#000000"},
 "encoding": {"text": {"field": "t", "type": "nominal"}}},
{"data": {"name": "names"}, "transform": [{"filter": "datum.part === 'L'"}], "mark": {"type": "text", "fontSize": 70, "align": "left", "baseline": "alphabetic"},
 "encoding": {"text": {"field": "t", "type": "nominal"}, "color": {"field": "s", "type": "nominal", "scale": {"domain": ["Lout","Lin","L0"], "range": ["#0000ff","#ff0000","#000000"]}, "legend": null}}},
{"data": {"name": "names"}, "transform": [{"filter": "datum.part === 'sub'"}], "mark": {"type": "text", "fontSize": 50, "align": "left", "baseline": "alphabetic"},
 "encoding": {"text": {"field": "t", "type": "nominal"}, "color": {"field": "s", "type": "nominal", "scale": {"domain": ["Lout","Lin","L0"], "range": ["#0000ff","#ff0000","#000000"]}, "legend": null}}},
{"data": {"name": "gap"}, "mark": {"type": "rule", "color": "#ffffff", "strokeWidth": 8},
 "encoding": {"x2": {"field": "w2"}, "y2": {"field": "v2"}}},
{"data": {"name": "slashes"}, "mark": {"type": "rule", "color": "#000000", "strokeWidth": 3},
 "encoding": {"x2": {"field": "w2"}, "y2": {"field": "v2"}}}
]
}
